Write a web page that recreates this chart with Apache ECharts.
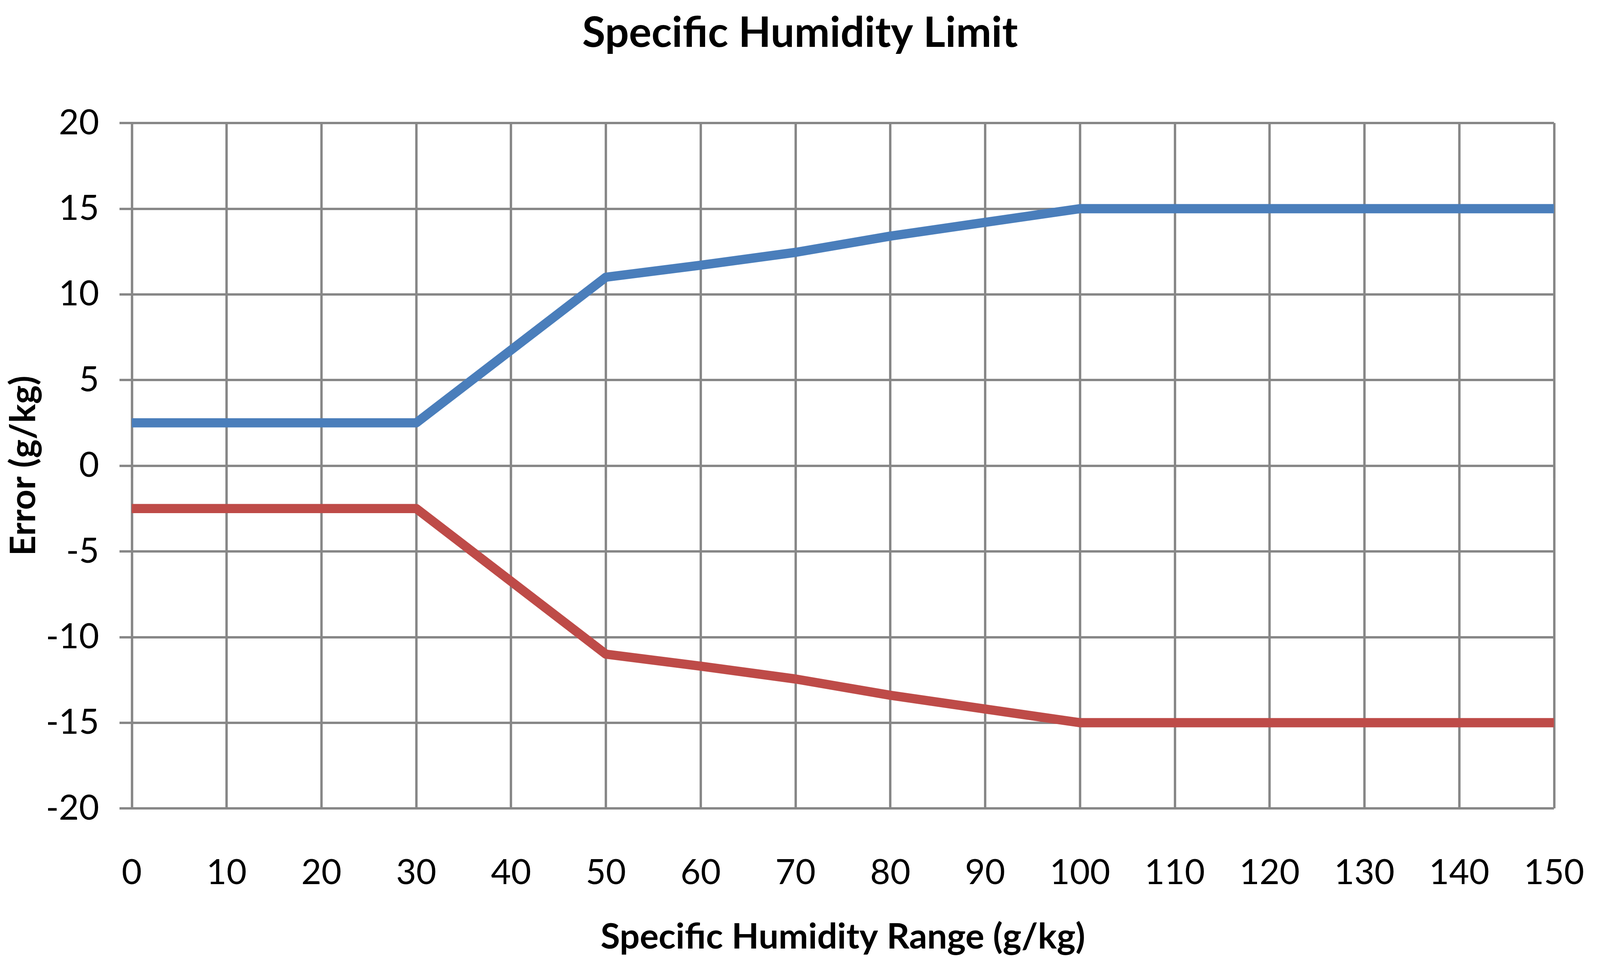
<!DOCTYPE html>
<html>
<head>
<meta charset="utf-8">
<script src="https://cdn.jsdelivr.net/npm/echarts@6/dist/echarts.min.js"></script>
<style>
html,body{margin:0;padding:0;background:#fff;overflow:hidden;}
#main{width:100vw;height:100vh;}
</style>
</head>
<body>
<div id="main"></div>
<script>
// Data
const xValues   = [0, 10, 20, 30, 40, 50, 60, 70, 80, 90, 100, 110, 120, 130, 140, 150];
const upperLimit = [2.5, 2.5, 2.5, 2.5, 6.75, 11, 11.7, 12.45, 13.4, 14.2, 15, 15, 15, 15, 15, 15];
const lowerLimit = [-2.5, -2.5, -2.5, -2.5, -6.75, -11, -11.7, -12.45, -13.4, -14.2, -15, -15, -15, -15, -15, -15];

const titleText = 'Specific Humidity Limit';
const xTitle = 'Specific Humidity Range (g/kg)';
const yTitle = 'Error (g/kg)';

const FONT = 'Lato';
const GRID = '#878787';

// layout is designed for 5392 x 2466 and scaled to the actual viewport
const W = window.innerWidth, H = window.innerHeight;
const kx = W / 5392, ky = H / 2466, k = Math.sqrt(kx * ky);

const titleFS = 124 * k, nameFS = 104 * k, labelFS = 102 * k;

const chart = echarts.init(document.getElementById('main'));
chart.setOption({
  backgroundColor: '#ffffff',
  animation: false,
  title: {
    text: titleText,
    left: 'center',
    top: 80 * ky - titleFS / 2,
    textStyle: {fontFamily: FONT, fontWeight: 'bold', fontSize: titleFS, color: '#000'}
  },
  grid: {left: 444 * kx, right: 155 * kx, top: 315 * ky, bottom: 396 * ky, containLabel: false},
  xAxis: {
    type: 'value',
    min: 0, max: 150, interval: 10,
    name: xTitle,
    nameLocation: 'middle',
    nameGap: (2400 - 2070) * ky - nameFS / 2,
    nameTextStyle: {fontFamily: FONT, fontWeight: 'bold', fontSize: nameFS, color: '#000'},
    axisLine: {show: true, lineStyle: {color: GRID, width: 7 * k}},
    axisTick: {show: true, length: 36 * k, lineStyle: {color: GRID, width: 7 * k}},
    axisLabel: {fontFamily: FONT, fontSize: labelFS, color: '#000', margin: (2235 - 2070) * ky - labelFS / 2},
    splitLine: {show: true, lineStyle: {color: GRID, width: 7 * k}}
  },
  yAxis: {
    type: 'value',
    min: -20, max: 20, interval: 5,
    name: yTitle,
    nameLocation: 'middle',
    nameGap: (444 - 94) * kx - nameFS / 2,
    nameRotate: 90,
    nameTextStyle: {fontFamily: FONT, fontWeight: 'bold', fontSize: nameFS, color: '#000'},
    axisLine: {show: true, onZero: false, lineStyle: {color: GRID, width: 7 * k}},
    axisTick: {show: true, length: 36 * k, lineStyle: {color: GRID, width: 7 * k}},
    axisLabel: {fontFamily: FONT, fontSize: labelFS, color: '#000', margin: 110 * kx},
    splitLine: {show: true, lineStyle: {color: GRID, width: 7 * k}}
  },
  series: [
    {
      type: 'line',
      data: xValues.map((x, i) => [x, upperLimit[i]]),
      showSymbol: false,
      lineStyle: {color: '#4a7ebb', width: 27 * k, join: 'round'},
      itemStyle: {color: '#4a7ebb'}
    },
    {
      type: 'line',
      data: xValues.map((x, i) => [x, lowerLimit[i]]),
      showSymbol: false,
      lineStyle: {color: '#be4b48', width: 27 * k, join: 'round'},
      itemStyle: {color: '#be4b48'}
    }
  ]
});
</script>
</body>
</html>
